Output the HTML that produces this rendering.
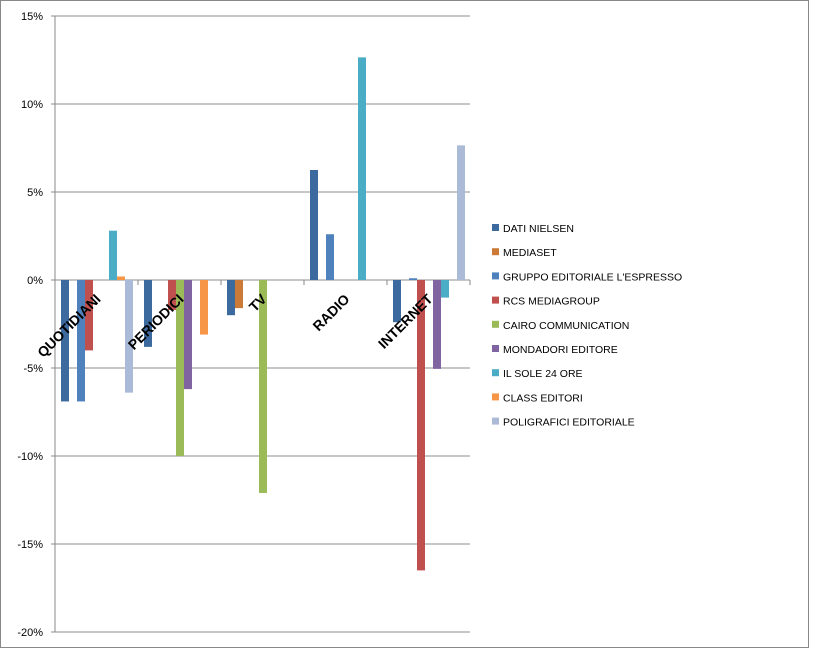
<!DOCTYPE html>
<html><head><meta charset="utf-8"><style>
body{margin:0;background:#fff;}
svg{display:block;font-family:"Liberation Sans",sans-serif;}
</style></head><body>
<svg id="c" width="821" height="650">
<rect x="0.5" y="0.5" width="808" height="647" fill="#fff" stroke="#888"/>
</svg>
<script>
const categories=["QUOTIDIANI","PERIODICI","TV","RADIO","INTERNET"];
const seriesNames=["DATI NIELSEN","MEDIASET","GRUPPO EDITORIALE  L'ESPRESSO","RCS MEDIAGROUP","CAIRO COMMUNICATION","MONDADORI EDITORE","IL SOLE 24 ORE","CLASS EDITORI","POLIGRAFICI EDITORIALE"];
const seriesColors=["#3d6a9e","#cc7a37","#4f81bd","#c0504d","#9bbb59","#8064a2","#4bacc6","#f79646","#aabad7"];
const s0=[-6.9,-3.8,-2.0,6.25,-2.4];
const s1=[0,0,-1.6,0,0];
const s2=[-6.9,0,0,2.6,0.1];
const s3=[-4.0,-1.7,0,0,-16.5];
const s4=[0,-10.0,-12.1,0,0];
const s5=[0,-6.2,0,0,-5.05];
const s6=[2.8,0,0,12.65,-1.0];
const s7=[0.2,-3.1,0,0,0];
const s8=[-6.4,0,0,0,7.65];
const series=[s0,s1,s2,s3,s4,s5,s6,s7,s8];
const yTicks=[15,10,5,0,-5,-10,-15,-20];

const svg=document.getElementById('c');
const NS='http://www.w3.org/2000/svg';
const X0=55,X1=470,Y15=16,PX=17.6;
const y=v=>Y15+(15-v)*PX;
const gw=(X1-X0)/categories.length;
function mk(t,a){const e=document.createElementNS(NS,t);for(const k in a)e.setAttribute(k,a[k]);svg.appendChild(e);return e;}
yTicks.forEach(t=>{
  const g=mk('line',{x1:X0-4,x2:X1,y1:y(t),y2:y(t),stroke:'#8c8c8c','stroke-width':1});
  
  
  const l=mk('text',{x:X0-12,y:y(t)+4,'text-anchor':'end','font-size':11,fill:'#000'});
  l.textContent=t+'%';
  
  
});
const ax=mk('line',{x1:X0,x2:X0,y1:Y15,y2:y(-20),stroke:'#888'});


for(let i=1;i<=categories.length;i++){
  const t=mk('line',{x1:X0+i*gw,x2:X0+i*gw,y1:y(0),y2:y(0)+5,stroke:'#888'});
  
  
}
series.forEach((s,si)=>{
  s.forEach((v,ci)=>{
    if(v===0)return;
    const x=X0+ci*gw+6+si*8;
    const r=mk('rect',{x:x,width:8,y:Math.min(y(v),y(0)),height:Math.abs(y(v)-y(0)),fill:seriesColors[si]});
    
    
  });
});
categories.forEach((c,ci)=>{
  const cx=X0+ci*gw+gw/2+5;
  const t=mk('text',{x:cx,y:300,'text-anchor':'end','font-size':14,'font-weight':'bold',fill:'#000',transform:`rotate(-45 ${cx} 300)`});
  t.textContent=c;
  
  
});
seriesNames.forEach((n,i)=>{
  const ly=228+i*24.2;
  const r=mk('rect',{x:492,y:ly-4,width:7,height:7,fill:seriesColors[i]});
  
  
  const t=mk('text',{x:503,y:ly+4,'font-size':10.5,fill:'#000'});
  t.textContent=n;
  
  
});
</script>
</body></html>
